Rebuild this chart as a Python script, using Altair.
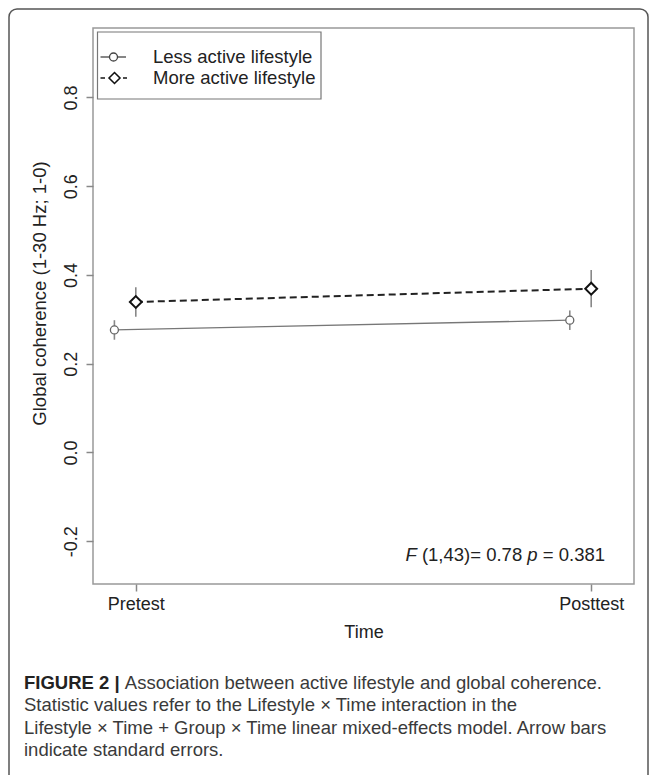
import altair as alt
import pandas as pd

# ---------------- data ----------------
time_labels = ["Pretest", "Posttest"]
time_values = [1, 2]
groups = ["Less active lifestyle", "More active lifestyle"]
x_less = [0.953, 1.953]          # slightly dodged left
x_more = [1.0, 2.0]
mean_less = [0.276, 0.298]
mean_more = [0.339, 0.369]
se_less = [0.022, 0.022]
se_more = [0.033, 0.042]
y_ticks = [-0.2, 0.0, 0.2, 0.4, 0.6, 0.8]

stat_parts = ["F", "(1,43)= 0.78", "p", "= 0.381"]
caption_bold = "FIGURE 2 |"
caption_lines = [
    "Association between active lifestyle and global coherence.",
    "Statistic values refer to the Lifestyle \u00d7 Time interaction in the",
    "Lifestyle \u00d7 Time + Group \u00d7 Time linear mixed-effects model. Arrow bars",
    "indicate standard errors.",
]

rows = []
for g, xs, ms, ss in [(groups[0], x_less, mean_less, se_less),
                      (groups[1], x_more, mean_more, se_more)]:
    for t, xv, m, s in zip(time_labels, xs, ms, ss):
        rows.append(dict(group=g, time=t, x=xv, mean=m, lo=m - s, hi=m + s))
df = pd.DataFrame(rows)
less = df[df.group == groups[0]]
more = df[df.group == groups[1]]
dummy = pd.DataFrame({"k": [0]})

FONT = "Liberation Sans"
W, H = 541, 556

xscale = alt.Scale(domain=[0.906, 2.094], nice=False, zero=False)
yscale = alt.Scale(domain=[-0.2964, 0.9564], nice=False, zero=False)

label_expr_x = "datum.value == 1 ? '%s' : '%s'" % (time_labels[0], time_labels[1])
xaxis = alt.Axis(values=time_values, labelExpr=label_expr_x, title="Time",
                 grid=False, domain=False, tickSize=7, tickColor="#888", tickWidth=1.5,
                 labelFont=FONT, labelFontSize=18, labelColor="#222", labelPadding=4,
                 titleFont=FONT, titleFontSize=18, titleFontWeight="normal",
                 titleColor="#222", titlePadding=10)
yaxis = alt.Axis(values=y_ticks,
                 labelExpr="datum.value < 0 ? '-' + format(-datum.value, '.1f') : format(datum.value, '.1f')",
                 title="Global coherence (1-30 Hz; 1-0)",
                 grid=False, domain=False, tickSize=7, tickColor="#888", tickWidth=1.5,
                 labelFont=FONT, labelFontSize=18, labelColor="#222",
                 labelAngle=270, labelAlign="center", labelBaseline="middle", labelPadding=15,
                 titleFont=FONT, titleFontSize=18.5, titleFontWeight="normal", titleColor="#222",
                 titleAngle=270, titleAlign="center", titleBaseline="middle",
                 titleX=-54, titleY=265)

X = alt.X("x:Q", scale=xscale, axis=xaxis)
Y = alt.Y("mean:Q", scale=yscale, axis=yaxis)

errbars = alt.Chart(df).mark_rule(color="#888", strokeWidth=1.6).encode(
    x=X, y=alt.Y("lo:Q", scale=yscale, axis=yaxis), y2="hi:Q")
line_less = alt.Chart(less).mark_line(color="#777", strokeWidth=1.3).encode(x=X, y=Y)
line_more = alt.Chart(more).mark_line(color="#222", strokeWidth=2, strokeDash=[7, 4]).encode(x=X, y=Y)
pts_less = alt.Chart(less).mark_point(shape="circle", filled=True, fill="white", stroke="#666",
                                      strokeWidth=1.3, size=64, opacity=1).encode(x=X, y=Y)
pts_more = alt.Chart(more).mark_point(shape="diamond", filled=True, fill="white", stroke="#111",
                                      strokeWidth=2, size=140, opacity=1).encode(x=X, y=Y)

# ---------------- decorations (pixel positions relative to plot area) ----------------
frame = alt.Chart(dummy).mark_rect(fill=None, stroke="#555", strokeWidth=1.5, cornerRadius=8).encode(
    x=alt.value(-84), x2=alt.value(555), y=alt.value(-19), y2=alt.value(770))

legend_box = alt.Chart(dummy).mark_rect(fill="white", stroke="#777", strokeWidth=1.2).encode(
    x=alt.value(4.5), x2=alt.value(228), y=alt.value(4), y2=alt.value(71))
leg_line1 = alt.Chart(dummy).mark_rule(color="#444", strokeWidth=1.3).encode(
    x=alt.value(7.5), x2=alt.value(33), y=alt.value(29))
leg_dash_a = alt.Chart(dummy).mark_rule(color="#222", strokeWidth=1.6).encode(
    x=alt.value(7.5), x2=alt.value(12), y=alt.value(50))
leg_dash_b = alt.Chart(dummy).mark_rule(color="#222", strokeWidth=1.6).encode(
    x=alt.value(30), x2=alt.value(34), y=alt.value(50))
leg_pt1 = alt.Chart(dummy).mark_point(shape="circle", filled=True, fill="white", stroke="#444",
                                      strokeWidth=1.3, size=64, opacity=1).encode(
    x=alt.value(20.5), y=alt.value(29))
leg_pt2 = alt.Chart(dummy).mark_point(shape="diamond", filled=True, fill="white", stroke="#111",
                                      strokeWidth=1.6, size=120, opacity=1).encode(
    x=alt.value(21.5), y=alt.value(50))
leg_t1 = alt.Chart(dummy).mark_text(text=groups[0], align="left", baseline="middle", font=FONT,
                                    fontSize=18.5, color="#222").encode(x=alt.value(60), y=alt.value(29))
leg_t2 = alt.Chart(dummy).mark_text(text=groups[1], align="left", baseline="middle", font=FONT,
                                    fontSize=18.5, color="#222").encode(x=alt.value(60), y=alt.value(50))

stat_x = [312.5, 328.9, 434.3, 449.8]
stat_italic = [True, False, True, False]
stat_layers = []
for part, sx, it in zip(stat_parts, stat_x, stat_italic):
    stat_layers.append(alt.Chart(dummy).mark_text(
        text=part, align="left", baseline="middle", font=FONT, fontSize=18.5,
        fontStyle="italic" if it else "normal", color="#222").encode(
        x=alt.value(sx), y=alt.value(527)))

cap_y = [655, 677, 700, 722]
cap_layers = [alt.Chart(dummy).mark_text(
    text=caption_bold, align="left", baseline="middle", font=FONT, fontSize=18.5,
    fontWeight="bold", color="#222").encode(x=alt.value(-69), y=alt.value(cap_y[0]))]
for i, (line, cy) in enumerate(zip(caption_lines, cap_y)):
    cx = 31.8 if i == 0 else -69
    cap_layers.append(alt.Chart(dummy).mark_text(
        text=line, align="left", baseline="middle", font=FONT, fontSize=18.5,
        color="#3a3a3a").encode(x=alt.value(cx), y=alt.value(cy)))

chart = alt.layer(
    frame, errbars, line_less, line_more, pts_less, pts_more,
    legend_box, leg_line1, leg_dash_a, leg_dash_b, leg_pt1, leg_pt2, leg_t1, leg_t2,
    *stat_layers, *cap_layers
).properties(
    width=W, height=H,
    autosize=alt.AutoSizeParams(type="none"),
    padding={"left": 85, "top": 20, "right": 15, "bottom": 191},
    background="white",
).configure_view(stroke="#999", strokeWidth=1.5)

chart.save("out.html", embed_options={"renderer": "svg", "actions": False})
